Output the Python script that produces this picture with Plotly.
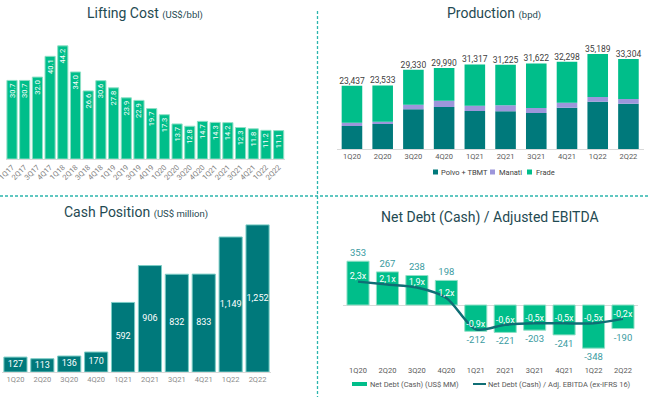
import plotly.graph_objects as go

W, H = 650, 397

# ---------------- data ----------------
lc_quarters = ["1Q17","2Q17","3Q17","4Q17","1Q18","2Q18","3Q18","4Q18","1Q19","2Q19","3Q19",
               "4Q19","1Q20","2Q20","3Q20","4Q20","1Q21","2Q21","3Q21","4Q21","1Q22","2Q22"]
lc_values = [30.7,30.7,32.0,40.1,44.2,34.0,26.6,30.6,27.8,23.9,22.9,19.7,17.3,13.7,12.8,14.7,14.3,14.2,12.3,11.8,11.2,11.1]

quarters = ["1Q20","2Q20","3Q20","4Q20","1Q21","2Q21","3Q21","4Q21","1Q22","2Q22"]
prod_total = [23437,23533,29330,29990,31317,31225,31622,32298,35189,33304]
prod_polvo = [8520,9260,14700,15560,14080,13955,13340,15315,17535,16800]
prod_manati = [1240,870,1725,2350,1975,2225,1850,1850,1730,1725]
prod_frade = [t - p - m for t, p, m in zip(prod_total, prod_polvo, prod_manati)]
prod_series = ["Polvo + TBMT", "Manati", "Frade"]

cash = [127,113,136,170,592,906,832,833,1149,1252]

net_debt = [353,267,238,198,-212,-221,-203,-241,-348,-190]
nd_ratio = [2.3,2.1,1.9,1.2,-0.9,-0.6,-0.5,-0.5,-0.5,-0.2]
nd_series = ["Net Debt (Cash) (US$ MM)", "Net Debt (Cash) / Adj. EBITDA (ex-IFRS 16)"]

FONT = "Roboto"
TITLE_C = "#1f4a52"
GREEN = "#00be8a"
TEAL = "#00797b"
LAV = "#9d96db"
LINE_C = "#0f6e75"

def fx(x):
    return x / W

def fy(y):
    return 1 - y / H

fig = go.Figure()

# ---------- Lifting cost ----------
fig.add_trace(go.Bar(
    x=lc_quarters, y=lc_values, xaxis="x", yaxis="y",
    marker=dict(color=GREEN, line=dict(color="#8fe0c6", width=1)),
    text=[f"{v:.1f}" for v in lc_values], textposition="inside",
    insidetextanchor="end", textangle=-90,
    textfont=dict(color="white", size=7.5, family=FONT),
    width=0.8, showlegend=False, hoverinfo="skip"))

# ---------- Production ----------
for name, vals, col in zip(prod_series, [prod_polvo, prod_manati, prod_frade], [TEAL, LAV, GREEN]):
    fig.add_trace(go.Bar(x=quarters, y=vals, name=name, xaxis="x2", yaxis="y2",
                         marker=dict(color=col, line=dict(width=0)), width=0.67,
                         showlegend=False, hoverinfo="skip"))
fig.add_trace(go.Scatter(x=quarters, y=prod_total, mode="text", xaxis="x2", yaxis="y2",
                         text=[f"{v:,}" for v in prod_total], textposition="top center",
                         textfont=dict(color="#404040", size=8.5, family=FONT),
                         showlegend=False, hoverinfo="skip", cliponaxis=False))

# ---------- Cash position ----------
fig.add_trace(go.Bar(
    x=quarters, y=cash, xaxis="x3", yaxis="y3",
    marker=dict(color=TEAL, line=dict(color="#7ccdc6", width=1)),
    width=0.86, showlegend=False, hoverinfo="skip"))
fig.add_trace(go.Scatter(
    x=quarters, y=[v / 2 for v in cash], mode="text", xaxis="x3", yaxis="y3",
    text=[f"{v:,}" for v in cash], textposition="middle center",
    textfont=dict(color="white", size=9, family=FONT),
    showlegend=False, hoverinfo="skip", cliponaxis=False))

# ---------- Net debt ----------
fig.add_trace(go.Bar(
    x=quarters, y=net_debt, name=nd_series[0], xaxis="x4", yaxis="y4",
    marker=dict(color=GREEN, line=dict(color="#8fe0c6", width=1)),
    text=[str(v) for v in net_debt], textposition="outside",
    textfont=dict(color="#3a9ba1", size=9.5, family=FONT),
    width=0.75, showlegend=False, cliponaxis=False, hoverinfo="skip"))
fig.add_trace(go.Scatter(
    x=quarters, y=nd_ratio, name=nd_series[1],
    xaxis="x4", yaxis="y5", mode="lines+text",
    line=dict(color=LINE_C, width=2.5, shape="spline", smoothing=0.8),
    text=[f"{v:.1f}x".replace(".", ",") for v in nd_ratio], textposition="top center",
    textfont=dict(color="white", size=9, family=FONT),
    showlegend=False, cliponaxis=False, hoverinfo="skip"))

# ---------- axes ----------
def cat_axis(domain, anchor, size, color, **kw):
    d = dict(domain=domain, anchor=anchor, type="category", showgrid=False, zeroline=False,
             tickfont=dict(size=size, color=color, family=FONT), ticks="", fixedrange=True)
    d.update(kw)
    return d

lc_top, lc_base, lc_scale = 30, 159, 2.56
pr_top, pr_base, pr_scale = 40, 149, 0.0027
cs_top, cs_base, cs_scale = 215, 372, 0.1175
nd_top, nd_zero, nd_bot, nd_scale = 238, 305, 364, 0.124
r_zero, r_scale = 315.9, 14.9

fig.update_layout(
    width=W, height=H, margin=dict(l=0, r=0, t=0, b=0, autoexpand=False),
    paper_bgcolor="white", plot_bgcolor="white", barmode="relative",
    font=dict(family=FONT, color="#404040"),
    uniformtext=dict(minsize=7.5, mode="show"),
    showlegend=False,
    xaxis=cat_axis([fx(5.65), fx(285)], "y", 7.5, "#7f7f7f", tickangle=-45,
                   showline=True, linecolor="#d9d9d9", automargin=False),
    yaxis=dict(domain=[fy(lc_base), fy(lc_top)], range=[0, (lc_base - lc_top) / lc_scale],
               visible=False, fixedrange=True),
    xaxis2=cat_axis([fx(336.6), fx(643.8)], "y2", 7.5, "#595959",
                    showline=True, linecolor="#d9d9d9", automargin=False),
    yaxis2=dict(domain=[fy(pr_base), fy(pr_top)], range=[0, (pr_base - pr_top) / pr_scale],
                visible=False, fixedrange=True),
    xaxis3=cat_axis([fx(2), fx(271)], "y3", 7.5, "#8c8c8c",
                    showline=True, linecolor="#d9d9d9", automargin=False),
    yaxis3=dict(domain=[fy(cs_base), fy(cs_top)], range=[0, (cs_base - cs_top) / cs_scale],
                visible=False, fixedrange=True),
    xaxis4=cat_axis([fx(343.3), fx(637.7)], "y4", 7.5, "#595959", showline=False,
                    automargin=False),
    yaxis4=dict(domain=[fy(nd_bot), fy(nd_top)],
                range=[-(nd_bot - nd_zero) / nd_scale, (nd_zero - nd_top) / nd_scale],
                showgrid=False, showticklabels=False, zeroline=True, zerolinecolor="#d9d9d9",
                zerolinewidth=1, fixedrange=True),
    yaxis5=dict(overlaying="y4", side="right",
                range=[(r_zero - nd_bot) / r_scale, (r_zero - nd_top) / r_scale],
                visible=False, fixedrange=True),
)

# ---------- titles ----------
titles = [
    ("Lifting Cost <span style='font-size:9.5px'>(US$/bbl)</span>", 145, 13),
    ("Production <span style='font-size:9.5px'>(bpd)</span>", 494, 13),
    ("Cash Position <span style='font-size:9.5px'>(US$ million)</span>", 136, 212),
    ("Net Debt (Cash) / Adjusted EBITDA", 490, 217),
]
for t, x, y in titles:
    fig.add_annotation(text=t, x=fx(x), y=fy(y), xref="paper", yref="paper",
                       xanchor="center", yanchor="middle", showarrow=False,
                       font=dict(size=14, color=TITLE_C, family=FONT))

# ---------- legends (drawn manually) ----------
leg_font = dict(size=7.5, color="#404040", family=FONT)
prod_leg_x = [433, 490, 527]
for name, col, x in zip(prod_series, [TEAL, LAV, GREEN], prod_leg_x):
    fig.add_shape(type="rect", xref="paper", yref="paper", x0=fx(x), x1=fx(x + 5),
                  y0=fy(174.5), y1=fy(169.5), fillcolor=col, line=dict(width=0))
    fig.add_annotation(text=name, x=fx(x + 6.5), y=fy(172), xref="paper", yref="paper",
                       xanchor="left", yanchor="middle", showarrow=False, font=leg_font)

nd_leg_font = dict(size=7.5, color="#595959", family=FONT)
fig.add_shape(type="rect", xref="paper", yref="paper", x0=fx(352), x1=fx(367),
              y0=fy(386), y1=fy(382), fillcolor=GREEN, line=dict(width=0))
fig.add_annotation(text=nd_series[0], x=fx(367.5), y=fy(384), xref="paper", yref="paper",
                   xanchor="left", yanchor="middle", showarrow=False, font=nd_leg_font)
fig.add_shape(type="line", xref="paper", yref="paper", x0=fx(473), x1=fx(486),
              y0=fy(384), y1=fy(384), line=dict(color=LINE_C, width=2))
fig.add_annotation(text=nd_series[1], x=fx(486), y=fy(384), xref="paper", yref="paper",
                   xanchor="left", yanchor="middle", showarrow=False, font=nd_leg_font)

# ---------- dividers ----------
div = dict(color="#2cb5ad", width=1.3, dash="3px,2px")
fig.add_shape(type="line", xref="paper", yref="paper", x0=0, x1=1, y0=fy(196), y1=fy(196), line=div)
fig.add_shape(type="line", xref="paper", yref="paper", x0=fx(317.5), x1=fx(317.5),
              y0=fy(11), y1=0, line=div)

fig.write_html("out.html", config={"displayModeBar": False},
               post_script="document.body.style.margin='0px';")
